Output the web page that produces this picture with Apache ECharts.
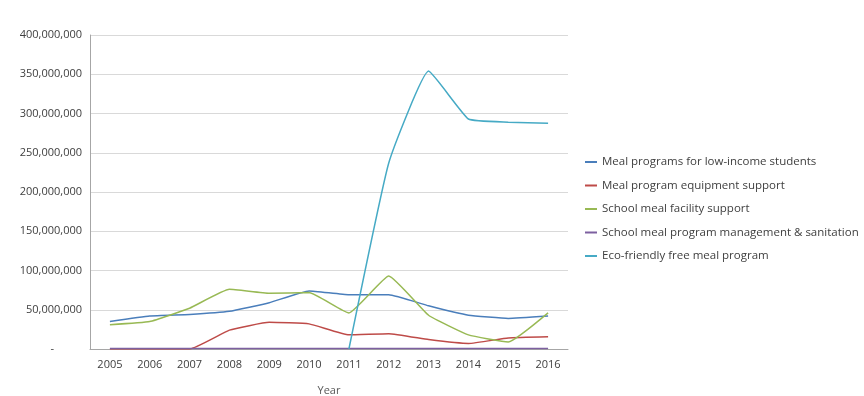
<!DOCTYPE html>
<html>
<head>
<meta charset="utf-8">
<script src="https://cdn.jsdelivr.net/npm/echarts@6/dist/echarts.min.js"></script>
<style>
html,body{margin:0;padding:0;background:#fff;}
#chart{width:864px;height:396px;}
</style>
</head>
<body>
<div id="chart"></div>
<script>
const years = ['2005','2006','2007','2008','2009','2010','2011','2012','2013','2014','2015','2016'];
const seriesNames = [
  'Meal programs for low-income students',
  'Meal program equipment support',
  'School meal facility support',
  'School meal program management & sanitation',
  'Eco-friendly free meal program'
];
const lowIncome = [35000000, 42000000, 44000000, 48000000, 59000000, 74000000, 69000000, 69000000, 55000000, 43000000, 39000000, 42000000];
const equipment = [0, 0, 0, 24000000, 34000000, 32000000, 18000000, 19500000, 12000000, 7000000, 14000000, 15500000];
const facility = [31000000, 35000000, 52000000, 76000000, 71000000, 72000000, 46000000, 93000000, 43000000, 18000000, 9000000, 46000000];
const management = [500000, 500000, 500000, 500000, 500000, 500000, 500000, 500000, 500000, 500000, 500000, 500000];
const ecoFriendly = [null, null, null, null, null, null, 0, 237000000, 354000000, 293000000, 289000000, 287500000];
const yTicks = [0, 50000000, 100000000, 150000000, 200000000, 250000000, 300000000, 350000000, 400000000];

const colors = ['#4a7ebb', '#be4b48', '#98b954', '#7d60a0', '#46aac5'];
const dataSets = [lowIncome, equipment, facility, management, ecoFriendly];

const chart = echarts.init(document.getElementById('chart'));
const font = '"Open Sans", "Noto Sans", sans-serif';
chart.setOption({
  animation: false,
  color: colors,
  textStyle: {fontFamily: font},
  grid: {left: 90, right: 296, top: 35, bottom: 47, outerBoundsMode: 'none', containLabel: false},
  legend: {
    orient: 'vertical',
    left: 580,
    top: 151,
    icon: 'rect',
    itemWidth: 12,
    itemHeight: 2,
    itemGap: 11.5,
    textStyle: {fontSize: 11.5, color: '#404040', fontFamily: font},
    data: seriesNames
  },
  xAxis: {
    type: 'category',
    data: years,
    boundaryGap: true,
    name: 'Year',
    nameLocation: 'middle',
    nameGap: 36,
    nameTextStyle: {fontSize: 11, color: '#595959'},
    axisLine: {lineStyle: {color: '#a6a6a6'}},
    axisTick: {show: false},
    axisLabel: {fontSize: 11, color: '#404040', margin: 10}
  },
  yAxis: {
    type: 'value',
    min: yTicks[0],
    max: yTicks[yTicks.length - 1],
    interval: yTicks[1] - yTicks[0],
    axisLine: {show: true, lineStyle: {color: '#a6a6a6'}},
    axisTick: {show: false},
    splitLine: {lineStyle: {color: '#d9d9d9'}},
    axisLabel: {
      fontSize: 11,
      color: '#404040',
      margin: 8,
      formatter: function (v) {
        if (v === 0) return '{z|-}';
        return v.toString().replace(/\B(?=(\d{3})+(?!\d))/g, ',');
      },
      rich: {z: {fontSize: 11, color: '#404040', padding: [0, 28, 0, 0]}}
    }
  },
  series: seriesNames.map(function (n, i) {
    return {
      name: n,
      type: 'line',
      data: dataSets[i],
      smooth: 0.12,
      showSymbol: false,
      symbol: 'none',
      connectNulls: false,
      lineStyle: {width: 1.5, color: colors[i]},
      itemStyle: {color: colors[i]}
    };
  })
});
</script>
</body>
</html>
